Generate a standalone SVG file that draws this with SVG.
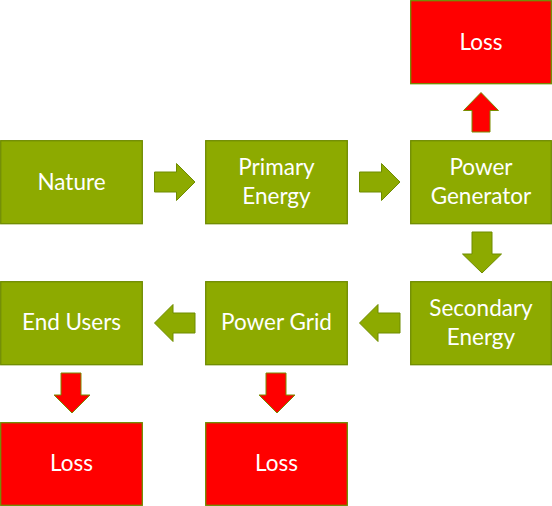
<svg xmlns="http://www.w3.org/2000/svg" width="552" height="506" viewBox="0 0 552 506">
<style>
.g{fill:#8DAA00;stroke:#6F8C00;stroke-width:1.3}
.r{fill:#FF0000;stroke:#6F8C00;stroke-width:1.3}
.ag{fill:#8DAA00;stroke:#6F8C00;stroke-width:1}
.ar{fill:#FF0000;stroke:#7A8C00;stroke-width:1}
text{font-family:Lato,"Open Sans",sans-serif;font-size:22.5px;fill:#FFFFFF;text-anchor:middle}
</style>
<rect width="552" height="506" fill="#FFFFFF"/>
<g id="nature"><rect class="g" x="0.7" y="140.7" width="141.6" height="83"/><text x="71.5" y="189.5">Nature</text></g>
<g id="primary-energy"><rect class="g" x="205.7" y="140.7" width="141.6" height="83"/><text x="276.5" y="175">Primary</text><text x="276.5" y="203.5">Energy</text></g>
<g id="power-generator"><rect class="g" x="410.7" y="140.7" width="140.6" height="83"/><text x="481" y="175">Power</text><text x="481" y="203.5">Generator</text></g>
<g id="loss-top"><rect class="r" x="410.7" y="0.7" width="140.6" height="83"/><text x="481" y="49.5">Loss</text></g>
<g id="end-users"><rect class="g" x="0.7" y="281.7" width="141.6" height="83"/><text x="71.5" y="330">End Users</text></g>
<g id="power-grid"><rect class="g" x="205.7" y="281.7" width="141.6" height="83"/><text x="276.5" y="330">Power Grid</text></g>
<g id="secondary-energy"><rect class="g" x="410.7" y="281.7" width="140.6" height="83"/><text x="481" y="316">Secondary</text><text x="481" y="344.5">Energy</text></g>
<g id="loss-left"><rect class="r" x="0.7" y="422.7" width="141.6" height="82.6"/><text x="71.5" y="471">Loss</text></g>
<g id="loss-mid"><rect class="r" x="205.7" y="422.7" width="141.6" height="82.6"/><text x="276.5" y="471">Loss</text></g>
<g id="connectors">
<path class="ag" d="M154.5,172 H176.5 V163.5 L195,182 L176.5,200.5 V192 H154.5 Z"/>
<path class="ag" d="M359.5,172 H381.5 V163.5 L400,182 L381.5,200.5 V192 H359.5 Z"/>
<path class="ag" d="M195,313 H173 V304.5 L154.5,323 L173,341.5 V333 H195 Z"/>
<path class="ag" d="M400,313 H378 V304.5 L359.5,323 L378,341.5 V333 H400 Z"/>
<path class="ag" d="M472,232 V254 H462.5 L482,273 L501.5,254 H492 V232 Z"/>
<path class="ar" d="M472,132 V110.5 H463.5 L481,92.5 L498.5,110.5 H490 V132 Z"/>
<path class="ar" d="M61,373 V395 H54 L72,413 L90,395 H81 V373 Z"/>
<path class="ar" d="M266,373 V395 H259 L277,413 L295,395 H286 V373 Z"/>
</g>
</svg>
